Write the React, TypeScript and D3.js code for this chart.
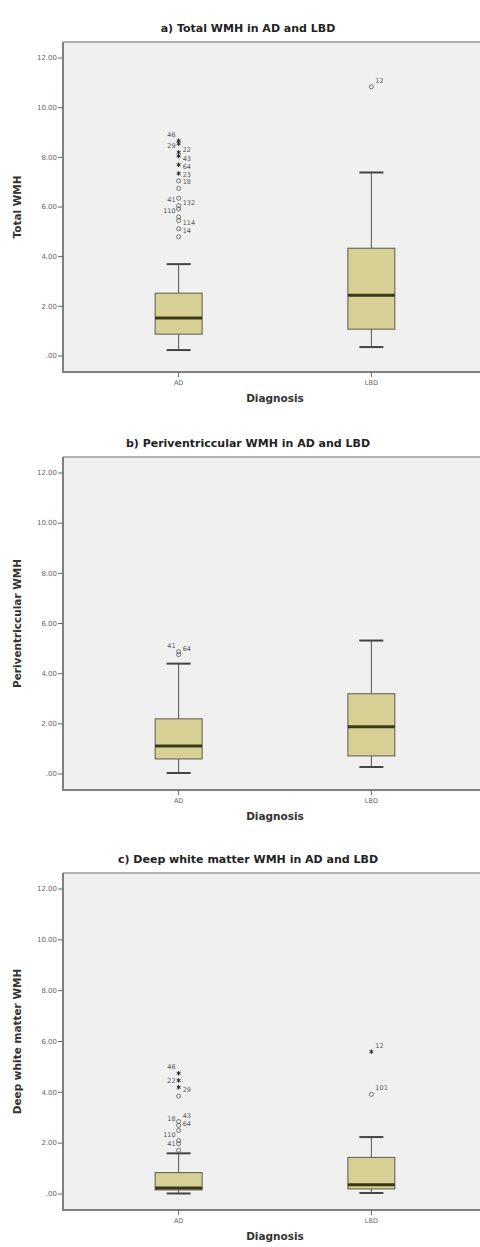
import React from "react";
import * as d3 from "d3";

const categories = ["AD", "LBD"];
const yTicks = [0, 2, 4, 6, 8, 10, 12];
const titles = [
  "a) Total WMH in AD and LBD",
  "b) Periventriccular WMH in AD and LBD",
  "c) Deep white matter WMH in AD and LBD",
];
const yTitles = ["Total WMH", "Periventriccular WMH", "Deep white matter WMH"];
const xTitle = "Diagnosis";

// [min whisker, q1, median, q3, max whisker] for AD, LBD
const totalStats = [
  [0.24, 0.88, 1.53, 2.53, 3.7],
  [0.36, 1.08, 2.45, 4.34, 7.39],
];
const periStats = [
  [0.04, 0.6, 1.12, 2.2, 4.4],
  [0.28, 0.72, 1.88, 3.2, 5.32],
];
const deepStats = [
  [0.02, 0.16, 0.24, 0.84, 1.6],
  [0.04, 0.2, 0.36, 1.44, 2.24],
];

type Outlier = { cat: string; v: number; id: string; kind: "o" | "*" };

const totalOutliers: Outlier[] = [
  { cat: "AD", v: 8.67, id: "46", kind: "*" },
  { cat: "AD", v: 8.55, id: "", kind: "*" },
  { cat: "AD", v: 8.2, id: "29", kind: "*" },
  { cat: "AD", v: 8.05, id: "22", kind: "*" },
  { cat: "AD", v: 7.7, id: "43", kind: "*" },
  { cat: "AD", v: 7.35, id: "64", kind: "*" },
  { cat: "AD", v: 7.05, id: "23", kind: "o" },
  { cat: "AD", v: 6.75, id: "18", kind: "o" },
  { cat: "AD", v: 6.35, id: "", kind: "o" },
  { cat: "AD", v: 6.05, id: "41", kind: "o" },
  { cat: "AD", v: 5.92, id: "132", kind: "o" },
  { cat: "AD", v: 5.6, id: "110", kind: "o" },
  { cat: "AD", v: 5.45, id: "", kind: "o" },
  { cat: "AD", v: 5.12, id: "114", kind: "o" },
  { cat: "AD", v: 4.8, id: "14", kind: "o" },
  { cat: "LBD", v: 10.84, id: "12", kind: "o" },
];
const periOutliers: Outlier[] = [
  { cat: "AD", v: 4.88, id: "41", kind: "o" },
  { cat: "AD", v: 4.76, id: "64", kind: "o" },
];
const deepOutliers: Outlier[] = [
  { cat: "AD", v: 4.75, id: "46", kind: "*" },
  { cat: "AD", v: 4.47, id: "", kind: "*" },
  { cat: "AD", v: 4.2, id: "22", kind: "*" },
  { cat: "AD", v: 3.85, id: "29", kind: "o" },
  { cat: "AD", v: 2.85, id: "43", kind: "o" },
  { cat: "AD", v: 2.7, id: "18", kind: "o" },
  { cat: "AD", v: 2.5, id: "64", kind: "o" },
  { cat: "AD", v: 2.1, id: "110", kind: "o" },
  { cat: "AD", v: 1.98, id: "", kind: "o" },
  { cat: "AD", v: 1.72, id: "41", kind: "o" },
  { cat: "LBD", v: 5.6, id: "12", kind: "*" },
  { cat: "LBD", v: 3.92, id: "101", kind: "o" },
];

// labels drawn on the left of their marker
const leftLabels = [
  ["46", "29", "41", "110"],
  ["41"],
  ["46", "22", "18", "110", "41"],
];

const panels = [
  { stats: totalStats, outliers: totalOutliers },
  { stats: periStats, outliers: periOutliers },
  { stats: deepStats, outliers: deepOutliers },
];

const W = 480;
const H = 1247;
const frameTops = [42, 457, 873];
const frameBottoms = [372, 790, 1210];
const left = 63;
const font = "DejaVu Sans, Verdana, sans-serif";

const fmt = (d: number) => (d === 0 ? ".00" : d.toFixed(2));

function Panel({ i }: { i: number }) {
  const top = frameTops[i];
  const bottom = frameBottoms[i];
  const { stats, outliers } = panels[i];
  const y = d3.scaleLinear().domain([0, 12]).range([bottom - 16, top + 16]);
  const x = d3.scalePoint<string>().domain(categories).range([left, 487]).padding(0.6);
  const bw = 47;
  const cap = 24;
  const star = d3.symbol(d3.symbolAsterisk, 14)()!;
  const circ = d3.symbol(d3.symbolCircle, 13)()!;
  return (
    <g>
      <text x={248} y={top - 10} textAnchor="middle" fontFamily={font} fontWeight="bold" fontSize={11} fill="#222">
        {titles[i]}
      </text>
      <rect x={left} y={top} width={W - left} height={bottom - top} fill="#f0f0f0" />
      <line x1={left} x2={W} y1={top} y2={top} stroke="#999" strokeWidth={1.5} />
      <line x1={left} x2={left} y1={top} y2={bottom} stroke="#808080" strokeWidth={2} />
      <line x1={left - 1} x2={W} y1={bottom} y2={bottom} stroke="#808080" strokeWidth={2} />
      {yTicks.map((t) => (
        <g key={t} transform={`translate(0,${y(t)})`}>
          <line x1={left - 5} x2={left} stroke="#666" />
          <text x={left - 6} dy="0.32em" textAnchor="end" fontFamily={font} fontSize={7} fill="#666">
            {fmt(t)}
          </text>
        </g>
      ))}
      <text
        transform={`translate(21,${(y(0) + y(12)) / 2}) rotate(-90)`}
        textAnchor="middle"
        fontFamily={font}
        fontWeight="bold"
        fontSize={10.5}
        fill="#333"
      >
        {yTitles[i]}
      </text>
      {categories.map((c, k) => {
        const [mn, q1, md, q3, mx] = stats[k];
        const cx = x(c)!;
        return (
          <g key={c}>
            <line x1={cx} x2={cx} y1={bottom} y2={bottom + 5} stroke="#666" />
            <text x={cx} y={bottom + 13} textAnchor="middle" fontFamily={font} fontSize={6.5} fill="#666">
              {c}
            </text>
            <line x1={cx} x2={cx} y1={y(mx)} y2={y(q3)} stroke="#555" strokeWidth={1} />
            <line x1={cx} x2={cx} y1={y(q1)} y2={y(mn)} stroke="#555" strokeWidth={1} />
            <line x1={cx - cap / 2} x2={cx + cap / 2} y1={y(mx)} y2={y(mx)} stroke="#444" strokeWidth={2} />
            <line x1={cx - cap / 2} x2={cx + cap / 2} y1={y(mn)} y2={y(mn)} stroke="#444" strokeWidth={2} />
            <rect x={cx - bw / 2} y={y(q3)} width={bw} height={y(q1) - y(q3)} fill="#d6d095" stroke="#5a5a50" strokeWidth={1} />
            <line x1={cx - bw / 2} x2={cx + bw / 2} y1={y(md)} y2={y(md)} stroke="#3a3816" strokeWidth={3} />
          </g>
        );
      })}
      {outliers.map((o, k) => {
        const cx = x(o.cat)!;
        const cy = y(o.v);
        const isLeft = leftLabels[i].includes(o.id);
        return (
          <g key={k}>
            {o.kind === "*" ? (
              <path d={star} transform={`translate(${cx},${cy})`} fill="#222" stroke="#222" strokeWidth={1} />
            ) : (
              <path d={circ} transform={`translate(${cx},${cy})`} fill="none" stroke="#555" strokeWidth={0.8} />
            )}
            {o.id && (
              <text
                x={isLeft ? cx - 3 : cx + 4}
                y={cy - 4}
                textAnchor={isLeft ? "end" : "start"}
                fontFamily={font}
                fontSize={6.5}
                fill="#555"
              >
                {o.id}
              </text>
            )}
          </g>
        );
      })}
      <text x={275} y={bottom + 30} textAnchor="middle" fontFamily={font} fontWeight="bold" fontSize={10.5} fill="#333">
        {xTitle}
      </text>
    </g>
  );
}

export default function App() {
  return (
    <svg width={W} height={H} style={{ position: "absolute", left: 0, top: 0, background: "#fff" }}>
      {panels.map((_, i) => (
        <Panel key={i} i={i} />
      ))}
    </svg>
  );
}
